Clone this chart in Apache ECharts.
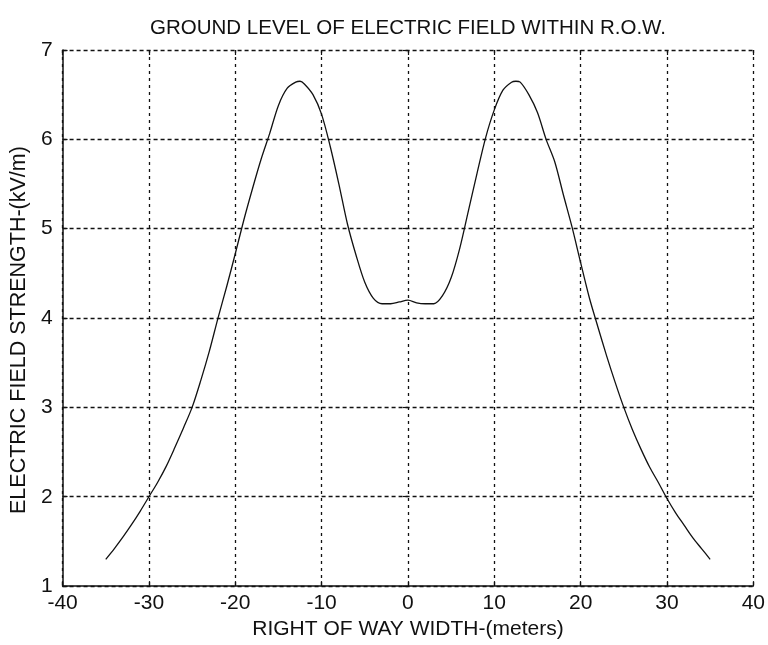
<!DOCTYPE html>
<html>
<head>
<meta charset="utf-8">
<script src="https://cdn.jsdelivr.net/npm/echarts@6/dist/echarts.min.js"></script>
<style>html,body{margin:0;padding:0;background:#fff;}#c{width:768px;height:645px;}</style>
</head>
<body>
<div id="c"></div>
<script>
var distance = [-35,-34,-33,-32,-31,-30,-29,-28,-27,-26,-25,-24,-23,-22,-21,-20,-19,-18,-17,-16,-15,-14,-13,-12.5,-12,-11,-10,-9,-8,-7,-6,-5,-4,-3,-2,-1,0,1,2,3,4,5,6,7,8,9,10,11,12,12.5,13,14,15,16,17,18,19,20,21,22,23,24,25,26,27,28,29,30,31,32,33,34,35];
var field = [1.30,1.42,1.55,1.69,1.84,2.00,2.16,2.34,2.55,2.77,3.00,3.30,3.63,4.00,4.35,4.72,5.10,5.45,5.78,6.07,6.38,6.57,6.64,6.65,6.62,6.50,6.28,5.92,5.50,5.05,4.70,4.40,4.22,4.16,4.16,4.18,4.20,4.17,4.16,4.16,4.25,4.45,4.78,5.20,5.62,6.02,6.33,6.55,6.64,6.65,6.64,6.50,6.30,6.00,5.75,5.38,5.02,4.62,4.23,3.90,3.58,3.28,3.00,2.75,2.53,2.33,2.16,1.98,1.82,1.68,1.54,1.42,1.30];
var titleText = 'GROUND LEVEL OF ELECTRIC FIELD WITHIN R.O.W.';
var xName = 'RIGHT OF WAY WIDTH-(meters)';
var yName = 'ELECTRIC FIELD STRENGTH-(kV/m)';

var pts = distance.map(function(d,i){return [d, field[i]];});
var font = 'Liberation Sans, Arial, sans-serif';
var ink = '#111';
var tick = {show: true, inside: true, length: 5, lineStyle: {color: ink, width: 1.2}};
var chart = echarts.init(document.getElementById('c'));
chart.setOption({
  animation: false,
  backgroundColor: '#fff',
  title: {text: titleText, left: 403, top: 13, textAlign: 'center',
    textStyle: {fontFamily: font, fontSize: 20.5, fontWeight: 'normal', color: ink}},
  grid: {left: 61, right: 13, top: 50, bottom: 56, containLabel: false},
  xAxis: [{type: 'value', min: -40, max: 40, interval: 10,
    name: xName, nameLocation: 'middle', nameGap: 32,
    nameTextStyle: {fontFamily: font, fontSize: 21, color: ink},
    axisLine: {show: true, onZero: false, lineStyle: {color: ink, width: 1.5}},
    axisTick: tick,
    axisLabel: {fontFamily: font, fontSize: 21, color: ink, margin: 7},
    splitLine: {show: true, lineStyle: {color: ink, type: [3,4], width: 1.3}}},
   {type: 'value', position: 'top', min: -40, max: 40, interval: 10,
    axisLine: {show: false}, axisTick: tick, axisLabel: {show: false}, splitLine: {show: false}}],
  yAxis: [{type: 'value', min: 1, max: 7, interval: 1,
    name: yName, nameLocation: 'middle', nameGap: 27, nameRotate: 90,
    nameTextStyle: {fontFamily: font, fontSize: 21.5, color: ink, padding: [0, 24, 0, 0]},
    axisLine: {show: true, onZero: false, lineStyle: {color: ink, width: 1.5}},
    axisTick: tick,
    axisLabel: {fontFamily: font, fontSize: 21, color: ink, margin: 10},
    splitLine: {show: true, lineStyle: {color: ink, type: [4,3], width: 1.3}}},
   {type: 'value', position: 'right', min: 1, max: 7, interval: 1,
    axisLine: {show: false}, axisTick: tick, axisLabel: {show: false}, splitLine: {show: false}}],
  series: [{type: 'line', data: pts, showSymbol: false, smooth: 0.3,
    lineStyle: {color: ink, width: 1.3}}]
});
</script>
</body>
</html>
